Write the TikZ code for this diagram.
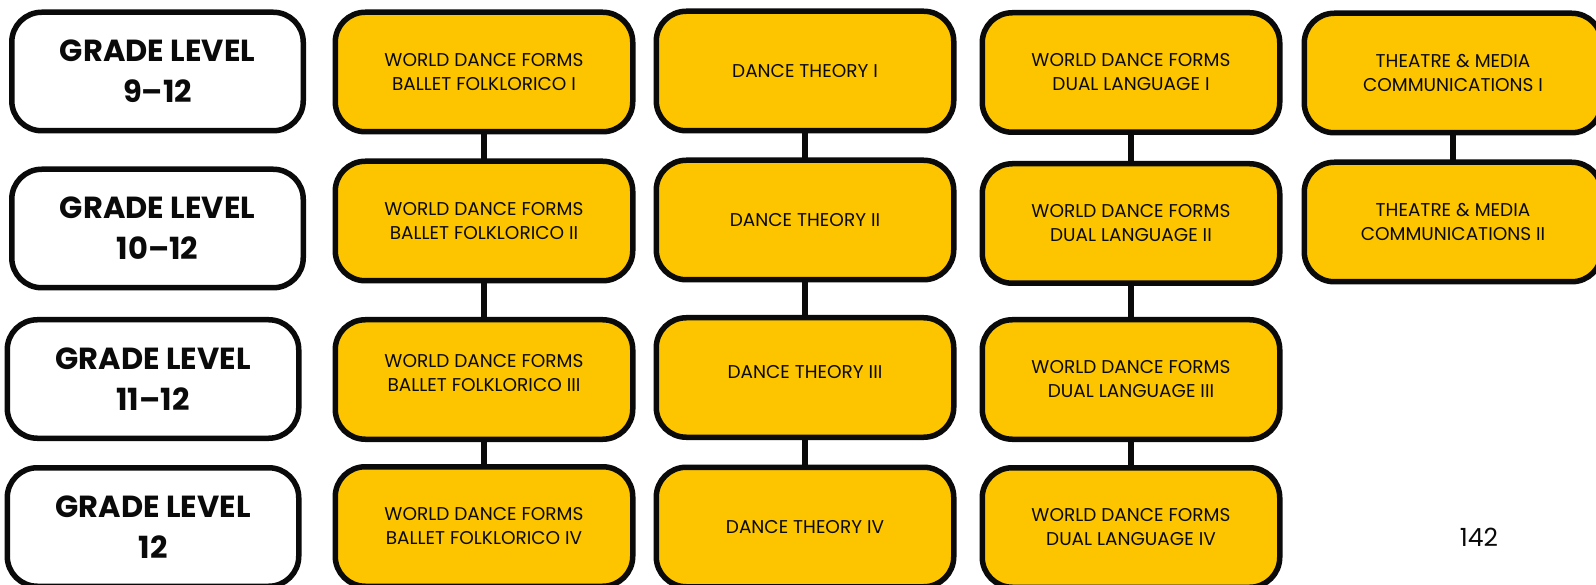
\documentclass[tikz,border=0pt]{standalone}
\usepackage{fontspec}
\setmainfont{Poppins}
\definecolor{gold}{HTML}{FCC500}
\definecolor{ink}{HTML}{0A0A0A}
\newcommand\liftup[2]{\raisebox{#1}[\height][\depth]{\begin{tabular}{@{}c@{}}#2\end{tabular}}}
\begin{document}
\begin{tikzpicture}[x=1pt,y=-1pt,
  course/.style={draw=ink, fill=gold, line width=5.5pt, rounded corners=30pt,
    minimum width=297.5pt, minimum height=119.5pt, inner sep=0pt, outer sep=0pt,
    align=center, text=ink, font=\fontsize{18.5}{24}\selectfont},
  grade/.style={draw=ink, fill=white, line width=5.5pt, rounded corners=30pt,
    minimum width=291.5pt, minimum height=118.5pt, inner sep=0pt, outer sep=0pt,
    align=center, text=ink, font=\fontsize{30.5}{41}\selectfont\bfseries},
  link/.style={draw=ink, line width=5.5pt}]
\useasboundingbox (0,0) rectangle (1596,585);
\fill[white] (0,0) rectangle (1596,585);

% grade boxes
\node[grade] (g1) at (157.5,71.5) {GRADE LEVEL\\9–12};
\node[grade] (g2) at (157.5,228.5) {GRADE LEVEL\\10–12};
\node[grade] (g3) at (153,379) {GRADE LEVEL\\11–12};
\node[grade] (g4) at (153,527) {GRADE LEVEL\\12};

% column 1
\node[course] (a1) at (484,72) {WORLD DANCE FORMS\\BALLET FOLKLORICO I};
\node[course] (a2) at (484,221) {WORLD DANCE FORMS\\BALLET FOLKLORICO II};
\node[course] (a3) at (484,379.5) {\liftup{5pt}{WORLD DANCE FORMS\\BALLET FOLKLORICO III}};
\node[course] (a4) at (484,526.5) {WORLD DANCE FORMS\\BALLET FOLKLORICO IV};

% column 2
\node[course] (b1) at (805,71) {DANCE THEORY I};
\node[course] (b2) at (805,220) {DANCE THEORY II};
\node[course] (b3) at (805,377.5) {\liftup{4pt}{DANCE THEORY III}};
\node[course] (b4) at (805,527) {DANCE THEORY IV};

% column 3
\node[course] (d1) at (1131,72.5) {WORLD DANCE FORMS\\DUAL LANGUAGE I};
\node[course] (d2) at (1131,223.5) {WORLD DANCE FORMS\\DUAL LANGUAGE II};
\node[course] (d3) at (1131,379.5) {WORLD DANCE FORMS\\DUAL LANGUAGE III};
\node[course] (d4) at (1131,527.5) {WORLD DANCE FORMS\\DUAL LANGUAGE IV};

% column 4
\node[course] (e1) at (1453,73) {THEATRE \& MEDIA\\COMMUNICATIONS I};
\node[course] (e2) at (1453,222) {THEATRE \& MEDIA\\COMMUNICATIONS II};

% links
\draw[link] (a1.south) -- (a2.north);
\draw[link] (a2.south) -- (a3.north);
\draw[link] (a3.south) -- (a4.north);
\draw[link] (b1.south) -- (b2.north);
\draw[link] (b2.south) -- (b3.north);
\draw[link] (b3.south) -- (b4.north);
\draw[link] (d1.south) -- (d2.north);
\draw[link] (d2.south) -- (d3.north);
\draw[link] (d3.south) -- (d4.north);
\draw[link] (e1.south) -- (e2.north);

% page number
\node[text=ink, font=\fontsize{25}{25}\selectfont, inner sep=0pt] (pg) at (1479,537) {142};
\end{tikzpicture}
\end{document}
